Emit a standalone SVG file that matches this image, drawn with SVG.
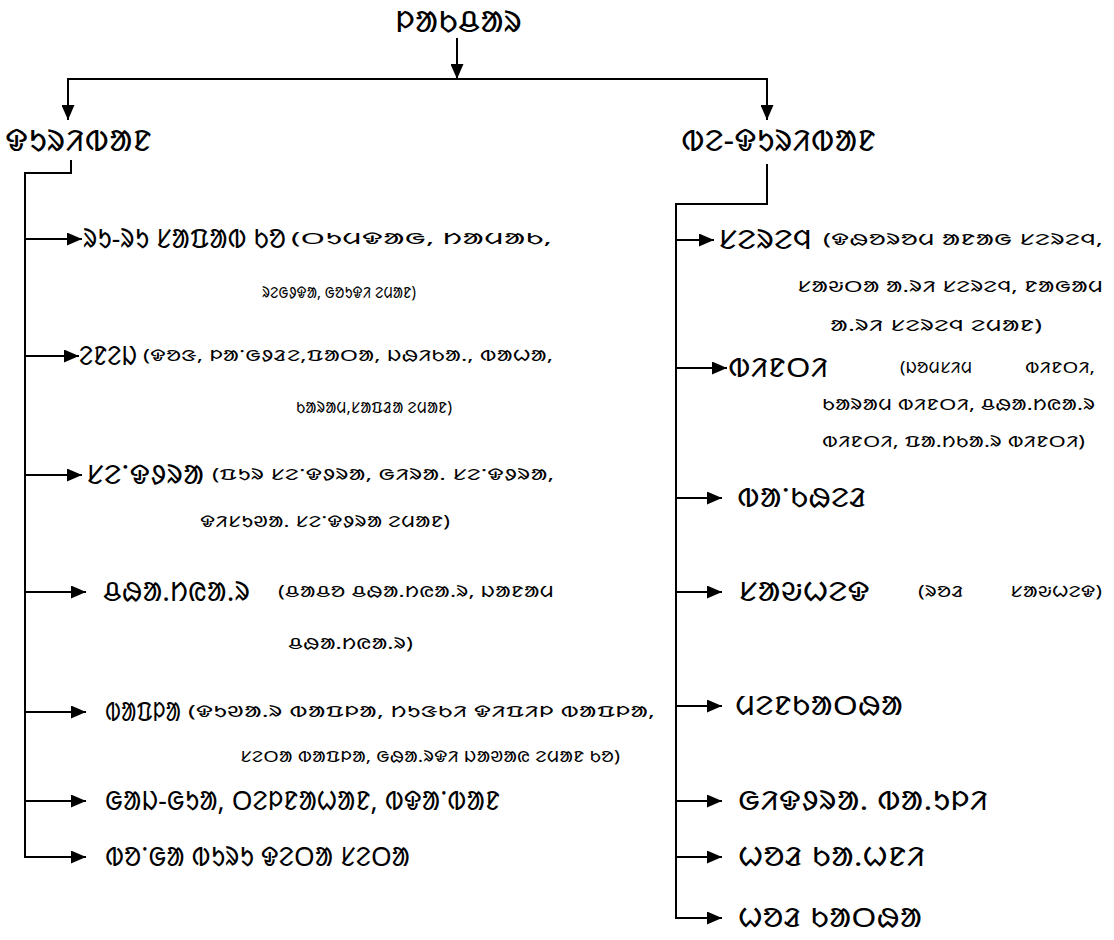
<svg xmlns="http://www.w3.org/2000/svg" width="1114" height="940" viewBox="0 0 1114 940">
<style>
.t{font-family:"Noto Sans Ol Chiki","Noto Sans",sans-serif;fill:#000}
.h{font-size:30px}
.b{font-size:27px}
.s{font-size:16px}
.c line,.c path{stroke:#000;stroke-width:2;fill:none}
</style>
<defs>
<marker id="ah" markerWidth="15" markerHeight="13" refX="15" refY="6.5" orient="auto" markerUnits="userSpaceOnUse"><path d="M0,0 L15,6.5 L0,13 z" fill="#000"/></marker>
</defs>
<rect width="1114" height="940" fill="#fff"/>
<g class="c">
<line x1="457" y1="38" x2="457" y2="79" marker-end="url(#ah)"/>
<line x1="67" y1="79" x2="768" y2="79"/>
<line x1="68" y1="79" x2="68" y2="120" marker-end="url(#ah)"/>
<line x1="767" y1="79" x2="767" y2="120" marker-end="url(#ah)"/>
<path d="M71,160 V173 H25 V857"/>
<path d="M767,164 V204 H676 V918"/>
<line x1="25" y1="239" x2="82" y2="239" marker-end="url(#ah)"/>
<line x1="25" y1="356" x2="79" y2="356" marker-end="url(#ah)"/>
<line x1="25" y1="475" x2="82" y2="475" marker-end="url(#ah)"/>
<line x1="25" y1="592" x2="86" y2="592" marker-end="url(#ah)"/>
<line x1="25" y1="712" x2="86" y2="712" marker-end="url(#ah)"/>
<line x1="25" y1="801" x2="86" y2="801" marker-end="url(#ah)"/>
<line x1="24" y1="857" x2="86" y2="857" marker-end="url(#ah)"/>
<line x1="676" y1="240" x2="714" y2="240" marker-end="url(#ah)"/>
<line x1="676" y1="368" x2="727" y2="368" marker-end="url(#ah)"/>
<line x1="676" y1="498" x2="722" y2="498" marker-end="url(#ah)"/>
<line x1="676" y1="592" x2="722" y2="592" marker-end="url(#ah)"/>
<line x1="676" y1="706" x2="722" y2="706" marker-end="url(#ah)"/>
<line x1="676" y1="801" x2="722" y2="801" marker-end="url(#ah)"/>
<line x1="676" y1="857" x2="722" y2="857" marker-end="url(#ah)"/>
<line x1="675" y1="918" x2="722" y2="918" marker-end="url(#ah)"/>
</g>
<g id="title" class="t h"><text x="395" y="32" textLength="127" lengthAdjust="spacingAndGlyphs">ᱞᱟᱠᱪᱟᱨ</text></g>
<g id="left" class="t h"><text x="5" y="151" textLength="147" lengthAdjust="spacingAndGlyphs">ᱫᱩᱨᱤᱵᱟᱱ</text></g>
<g id="right" class="t h"><text x="681" y="151" textLength="195" lengthAdjust="spacingAndGlyphs">ᱵᱮ-ᱫᱩᱨᱤᱵᱟᱱ</text></g>
<g id="l1" class="t"><text class="b" x="83" y="248" textLength="203" lengthAdjust="spacingAndGlyphs">ᱨᱩ-ᱨᱩ ᱥᱟᱯᱟᱵ ᱠᱚ</text><text class="s" x="291" y="244" textLength="261" lengthAdjust="spacingAndGlyphs">(ᱛᱩᱢᱫᱟᱜ, ᱴᱟᱢᱟᱠ,</text><text class="s" x="262" y="298" textLength="154" lengthAdjust="spacingAndGlyphs">ᱨᱮᱜᱽᱫᱟ, ᱜᱚᱩᱫᱤ ᱮᱢᱟᱱ)</text></g>
<g id="l2" class="t"><text class="b" x="79" y="365" textLength="58" lengthAdjust="spacingAndGlyphs">ᱮᱱᱮᱡ</text><text class="s" x="143" y="361" textLength="410" lengthAdjust="spacingAndGlyphs">(ᱫᱚᱝ, ᱞᱟᱸᱜᱽᱲᱮ,ᱯᱟᱛᱟ, ᱡᱷᱤᱠᱟᱹ, ᱵᱟᱦᱟ,</text><text class="s" x="296" y="413" textLength="156" lengthAdjust="spacingAndGlyphs">ᱠᱟᱨᱟᱢ,ᱥᱟᱯᱲᱟ ᱮᱢᱟᱱ)</text></g>
<g id="l3" class="t"><text class="b" x="86" y="484" textLength="118" lengthAdjust="spacingAndGlyphs">ᱥᱮᱸᱫᱽᱨᱟ</text><text class="s" x="212" y="480" textLength="342" lengthAdjust="spacingAndGlyphs">(ᱯᱩᱨ ᱥᱮᱸᱫᱽᱨᱟ, ᱜᱤᱨᱟᱹ ᱥᱮᱸᱫᱽᱨᱟ,</text><text class="s" x="200" y="527" textLength="250" lengthAdjust="spacingAndGlyphs">ᱫᱤᱥᱩᱣᱟᱹ ᱥᱮᱸᱫᱽᱨᱟ ᱮᱢᱟᱱ)</text></g>
<g id="l4" class="t"><text class="b" x="103" y="601" textLength="147" lengthAdjust="spacingAndGlyphs">ᱪᱷᱟᱹᱴᱭᱟᱹᱨ</text><text class="s" x="278" y="597" textLength="276" lengthAdjust="spacingAndGlyphs">(ᱪᱟᱪᱚ ᱪᱷᱟᱹᱴᱭᱟᱹᱨ, ᱡᱟᱱᱟᱢ</text><text class="s" x="288" y="649" textLength="125" lengthAdjust="spacingAndGlyphs">ᱪᱷᱟᱹᱴᱭᱟᱹᱨ)</text></g>
<g id="l5" class="t"><text class="b" x="105" y="721" textLength="76" lengthAdjust="spacingAndGlyphs">ᱵᱟᱯᱞᱟ</text><text class="s" x="188" y="717" textLength="467" lengthAdjust="spacingAndGlyphs">(ᱫᱩᱣᱟᱹᱨ ᱵᱟᱯᱞᱟ, ᱴᱩᱝᱠᱤ ᱫᱤᱯᱤᱞ ᱵᱟᱯᱞᱟ,</text><text class="s" x="240" y="762" textLength="380" lengthAdjust="spacingAndGlyphs">ᱥᱮᱛᱟ ᱵᱟᱯᱞᱟ, ᱜᱷᱟᱹᱨᱫᱤ ᱡᱟᱣᱟᱭ ᱮᱢᱟᱱ ᱠᱚ)</text></g>
<g id="l6" class="t b"><text x="105" y="810" textLength="395" lengthAdjust="spacingAndGlyphs">ᱜᱟᱡ-ᱜᱩᱟ, ᱛᱮᱞᱱᱟᱦᱟᱱ, ᱵᱫᱟᱸᱵᱟᱱ</text></g>
<g id="l7" class="t b"><text x="105" y="866" textLength="305" lengthAdjust="spacingAndGlyphs">ᱵᱚᱸᱜᱟ ᱵᱩᱨᱩ ᱫᱮᱛᱟ ᱥᱮᱛᱟ</text></g>
<g id="r1" class="t"><text class="b" x="718" y="249" textLength="94" lengthAdjust="spacingAndGlyphs">ᱥᱮᱨᱮᱧ</text><text class="s" x="823" y="245" textLength="280" lengthAdjust="spacingAndGlyphs">(ᱫᱷᱚᱨᱚᱢ ᱟᱱᱟᱜ ᱥᱮᱨᱮᱧ,</text><text class="s" x="797" y="292" textLength="306" lengthAdjust="spacingAndGlyphs">ᱥᱟᱶᱛᱟ ᱟᱹᱨᱤ ᱥᱮᱨᱮᱧ, ᱱᱟᱜᱟᱢ</text><text class="s" x="830" y="331" textLength="212" lengthAdjust="spacingAndGlyphs">ᱟᱹᱨᱤ ᱥᱮᱨᱮᱧ ᱮᱢᱟᱱ)</text></g>
<g id="r2" class="t"><text class="b" x="728" y="377" textLength="100" lengthAdjust="spacingAndGlyphs">ᱵᱤᱱᱛᱤ</text><text class="s" x="900" y="373" textLength="72" lengthAdjust="spacingAndGlyphs">(ᱡᱚᱢᱥᱤᱢ</text><text class="s" x="1025" y="373" textLength="70" lengthAdjust="spacingAndGlyphs">ᱵᱤᱱᱛᱤ,</text><text class="s" x="822" y="410" textLength="273" lengthAdjust="spacingAndGlyphs">ᱠᱟᱨᱟᱢ ᱵᱤᱱᱛᱤ, ᱪᱷᱟᱹᱴᱭᱟᱹᱨ</text><text class="s" x="822" y="447" textLength="263" lengthAdjust="spacingAndGlyphs">ᱵᱤᱱᱛᱤ, ᱯᱟᱹᱴᱠᱟᱹᱨ ᱵᱤᱱᱛᱤ)</text></g>
<g id="r3" class="t b"><text x="737" y="507" textLength="130" lengthAdjust="spacingAndGlyphs">ᱵᱟᱸᱠᱷᱮᱲ</text></g>
<g id="r4" class="t"><text class="b" x="738" y="601" textLength="132" lengthAdjust="spacingAndGlyphs">ᱥᱟᱶᱦᱮᱫ</text><text class="s" x="918" y="597" textLength="46" lengthAdjust="spacingAndGlyphs">(ᱨᱚᱲ</text><text class="s" x="1010" y="597" textLength="92" lengthAdjust="spacingAndGlyphs">ᱥᱟᱶᱦᱮᱫ)</text></g>
<g id="r5" class="t b"><text x="735" y="715" textLength="168" lengthAdjust="spacingAndGlyphs">ᱢᱮᱱᱠᱟᱛᱷᱟ</text></g>
<g id="r6" class="t b"><text x="738" y="810" textLength="250" lengthAdjust="spacingAndGlyphs">ᱜᱤᱫᱽᱨᱟᱹ ᱵᱟᱹᱩᱞᱤ</text></g>
<g id="r7" class="t b"><text x="738" y="866" textLength="187" lengthAdjust="spacingAndGlyphs">ᱦᱚᱲ ᱠᱟᱹᱦᱱᱤ</text></g>
<g id="r8" class="t b"><text x="738" y="927" textLength="184" lengthAdjust="spacingAndGlyphs">ᱦᱚᱲ ᱠᱟᱛᱷᱟ</text></g>
</svg>
